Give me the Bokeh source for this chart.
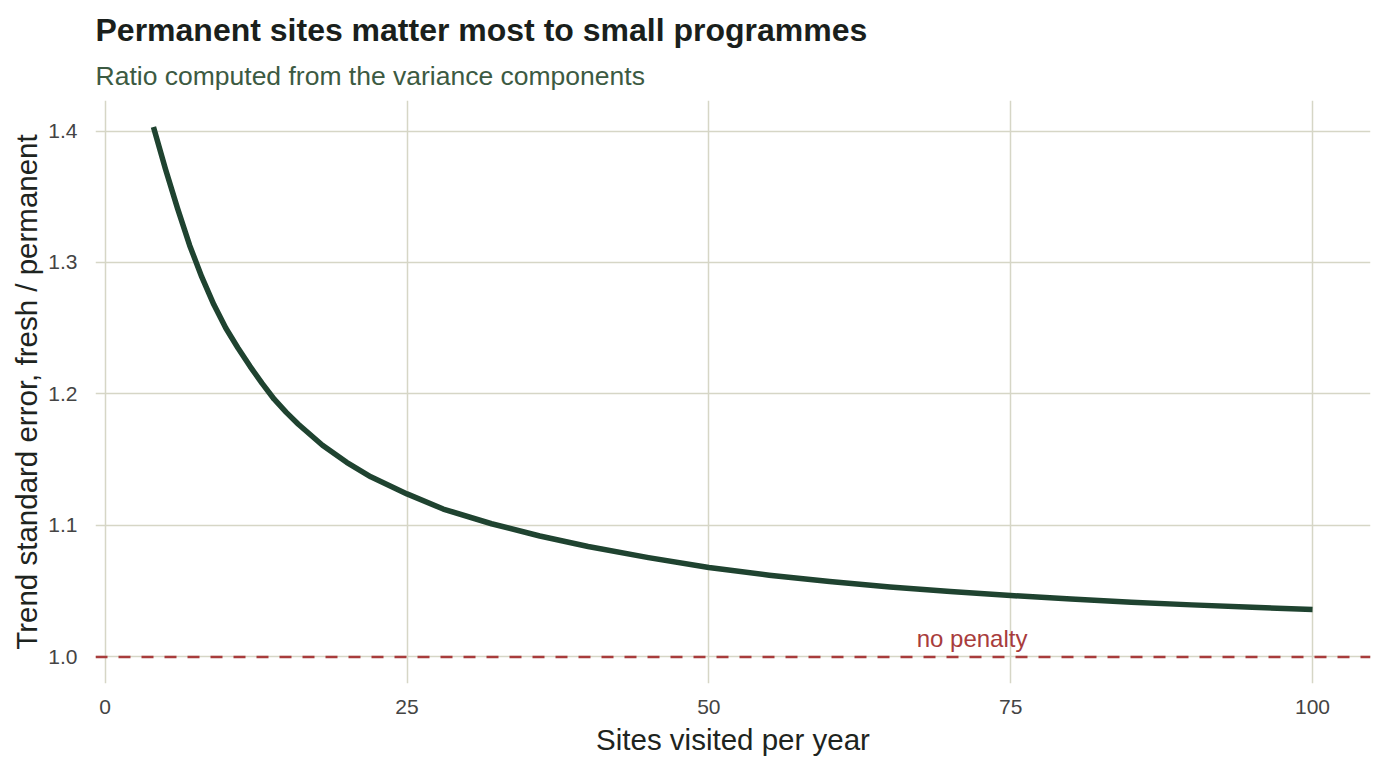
from bokeh.plotting import figure
from bokeh.models import (ColumnDataSource, Span, Title, FixedTicker, Range1d,
                          CustomJSTickFormatter)
from bokeh.core.properties import value
from bokeh.embed import file_html
from bokeh.resources import INLINE

# Sites visited per year and the ratio of trend standard errors (fresh / permanent)
sites_per_year = [4, 5, 6, 7, 8, 9, 10, 11, 12, 13, 14, 15, 16, 18, 20, 22, 25, 28,
                  32, 36, 40, 45, 50, 55, 60, 65, 70, 75, 80, 85, 90, 95, 100]
se_ratio = [1.403, 1.371, 1.341, 1.313, 1.289, 1.268, 1.250, 1.235, 1.221, 1.208,
            1.196, 1.186, 1.177, 1.161, 1.148, 1.137, 1.124, 1.1125, 1.1013, 1.092,
            1.084, 1.0755, 1.068, 1.0622, 1.0573, 1.0532, 1.0497, 1.0467, 1.044,
            1.0416, 1.0396, 1.0377, 1.036]

x_ticks = [0, 25, 50, 75, 100]
y_ticks = [1.0, 1.1, 1.2, 1.3, 1.4]
reference_ratio = 1.0
reference_label = "no penalty"
reference_label_x = 71.8

FONT = "Liberation Sans"
INK = "#1e2420"
GRID = "#d6d6c6"
LINE = "#1f4330"
RED = "#a83c3c"

p = figure(width=1382, height=768, output_backend="svg", toolbar_location=None,
           x_range=Range1d(-0.8, 104.8), y_range=Range1d(0.9798, 1.4232),
           min_border_left=95, min_border_right=12, min_border_top=100,
           min_border_bottom=85, background_fill_color="white",
           border_fill_color="white", outline_line_color=None)

# titles (the later one sits on top)
p.add_layout(Title(text="Ratio computed from the variance components",
                   text_font=FONT, text_font_size="26.5px", text_font_style="normal",
                   text_color="#3c5a42", offset=0, standoff=20), "above")
p.add_layout(Title(text="Permanent sites matter most to small programmes",
                   text_font=FONT, text_font_size="32px", text_font_style="bold",
                   text_color="#1a1f1c", offset=0, standoff=2), "above")

src = ColumnDataSource(data=dict(x=sites_per_year, y=se_ratio))

# reference line
p.add_layout(Span(location=reference_ratio, dimension="width", line_color=RED,
                  line_width=2.5, line_dash="12 11"))

p.line("x", "y", source=src, line_color=LINE, line_width=5.5, line_cap="butt",
       line_join="round")

p.text(x=[reference_label_x], y=[reference_ratio + 0.0137], text=[reference_label],
       text_color=RED, text_font_size="24px", text_align="center",
       text_baseline="alphabetic", text_font=value(FONT))

# axes
p.xaxis.ticker = FixedTicker(ticks=x_ticks)
p.yaxis.ticker = FixedTicker(ticks=y_ticks)
p.yaxis.formatter = CustomJSTickFormatter(code="return tick.toFixed(1);")
p.xaxis.axis_label = "Sites visited per year"
p.yaxis.axis_label = "Trend standard error, fresh / permanent"
for ax in (p.xaxis, p.yaxis):
    ax.axis_line_color = None
    ax.major_tick_line_color = None
    ax.minor_tick_line_color = None
    ax.major_label_text_font = FONT
    ax.major_label_text_font_size = "21px"
    ax.major_label_text_color = "#444444"
    ax.axis_label_text_font = FONT
    ax.axis_label_text_font_size = "29.5px"
    ax.axis_label_text_font_style = "normal"
    ax.axis_label_text_color = INK
p.xaxis.major_label_standoff = 10
p.yaxis.major_label_standoff = 12
p.xaxis.axis_label_standoff = 6
p.yaxis.axis_label_standoff = 2

p.xgrid.grid_line_color = GRID
p.ygrid.grid_line_color = GRID
p.xgrid.grid_line_width = 1.5
p.ygrid.grid_line_width = 1.5

open("out.html", "w").write(file_html(p, INLINE))
